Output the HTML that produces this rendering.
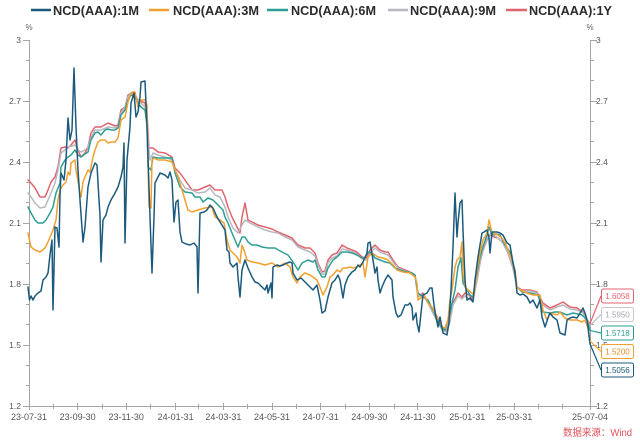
<!DOCTYPE html>
<html>
<head>
<meta charset="utf-8">
<style>
html,body{margin:0;padding:0;background:#fff;}
svg{display:block;}
text{font-family:"Liberation Sans","Noto Sans CJK SC",sans-serif;}
</style>
</head>
<body>
<svg width="640" height="440" viewBox="0 0 640 440" xmlns="http://www.w3.org/2000/svg">
<rect width="640" height="440" fill="#fff"/>

<!-- Legend -->
<g font-size="13" font-weight="bold" fill="#2b2b2b">
  <line x1="31" y1="10" x2="51" y2="10" stroke="#1c5a7d" stroke-width="2.5"/>
  <text x="53" y="15" textLength="86" lengthAdjust="spacingAndGlyphs">NCD(AAA):1M</text>
  <line x1="149" y1="10" x2="169" y2="10" stroke="#f0a030" stroke-width="2.5"/>
  <text x="173" y="15" textLength="86" lengthAdjust="spacingAndGlyphs">NCD(AAA):3M</text>
  <line x1="267" y1="10" x2="288" y2="10" stroke="#2e9e94" stroke-width="2.5"/>
  <text x="291" y="15" textLength="85" lengthAdjust="spacingAndGlyphs">NCD(AAA):6M</text>
  <line x1="388" y1="10" x2="408" y2="10" stroke="#b8b8c0" stroke-width="2.5"/>
  <text x="410" y="15" textLength="86" lengthAdjust="spacingAndGlyphs">NCD(AAA):9M</text>
  <line x1="506" y1="10" x2="527" y2="10" stroke="#e0646e" stroke-width="2.5"/>
  <text x="529" y="15" textLength="83" lengthAdjust="spacingAndGlyphs">NCD(AAA):1Y</text>
</g>

<!-- Units -->
<g font-size="8" fill="#666">
  <text x="29" y="30" text-anchor="middle">%</text>
  <text x="590" y="30" text-anchor="middle">%</text>
</g>

<!-- Axes -->
<g stroke="#a5a5a5" stroke-width="1" fill="none">
  <line x1="29.5" y1="40" x2="29.5" y2="406"/>
  <line x1="590.5" y1="40" x2="590.5" y2="406"/>
  <line x1="29" y1="406.5" x2="591" y2="406.5"/>
  <!-- left major ticks -->
  <path d="M23 40.5H29 M23 101.5H29 M23 162.5H29 M23 223.5H29 M23 284.5H29 M23 345.5H29 M23 406.5H29"/>
  <!-- left minor ticks -->
  <path d="M26 60.5H29 M26 80.5H29 M26 121.5H29 M26 141.5H29 M26 182.5H29 M26 202.5H29 M26 243.5H29 M26 263.5H29 M26 304.5H29 M26 324.5H29 M26 365.5H29 M26 385.5H29"/>
  <!-- right major ticks -->
  <path d="M591 40.5H597 M591 101.5H597 M591 162.5H597 M591 223.5H597 M591 284.5H597 M591 345.5H597 M591 406.5H597"/>
  <path d="M591 60.5H594 M591 80.5H594 M591 121.5H594 M591 141.5H594 M591 182.5H594 M591 202.5H594 M591 243.5H594 M591 263.5H594 M591 304.5H594 M591 324.5H594 M591 365.5H594 M591 385.5H594"/>
  <!-- x major ticks -->
  <path d="M29.5 403V410 M77.5 403V410 M126.5 403V410 M175.5 403V410 M223.5 403V410 M272.5 403V410 M320.5 403V410 M369.5 403V410 M417.5 403V410 M467.5 403V410 M514.5 403V410 M590.5 403V410"/>
  <!-- x minor ticks -->
  <path d="M53.5 404V409 M102.5 404V409 M150.5 404V409 M198.5 404V409 M247.5 404V409 M296.5 404V409 M345.5 404V409 M394.5 404V409 M442.5 404V409 M489.5 404V409 M538.5 404V409 M562.5 404V409"/>
</g>

<!-- Left y labels -->
<g font-size="8.5" fill="#555" text-anchor="end">
  <text x="21" y="43">3</text>
  <text x="21" y="104">2.7</text>
  <text x="21" y="165">2.4</text>
  <text x="21" y="226">2.1</text>
  <text x="21" y="287">1.8</text>
  <text x="21" y="348">1.5</text>
  <text x="21" y="409">1.2</text>
</g>
<!-- Right y labels -->
<g font-size="8.5" fill="#555">
  <text x="596" y="43">3</text>
  <text x="596" y="104">2.7</text>
  <text x="596" y="165">2.4</text>
  <text x="596" y="226">2.1</text>
  <text x="596" y="287">1.8</text>
  <text x="596" y="348">1.5</text>
  <text x="596" y="409">1.2</text>
</g>

<!-- X labels -->
<g font-size="9" fill="#555" text-anchor="middle">
  <text x="29" y="420">23-07-31</text>
  <text x="77.6" y="420">23-09-30</text>
  <text x="126.2" y="420">23-11-30</text>
  <text x="175.6" y="420">24-01-31</text>
  <text x="223.4" y="420">24-03-31</text>
  <text x="272" y="420">24-05-31</text>
  <text x="320.7" y="420">24-07-31</text>
  <text x="369.3" y="420">24-09-30</text>
  <text x="417.9" y="420">24-11-30</text>
  <text x="467.3" y="420">25-01-31</text>
  <text x="514.3" y="420">25-03-31</text>
  <text x="590" y="420">25-07-04</text>
</g>

<!-- Series -->
<g fill="none" stroke-width="1.5" stroke-linejoin="round" stroke-linecap="round">
  <!-- 1Y red -->
  <polyline stroke="#e0646e" points="28,180 31,183 35,188 40,197 45,197 48,190 51,182 55,177 58,167 61,148 65,147 68,148 71,145 75,140 78,150 81,157 85,153 88,147 91,133 95,127 101,127 108,123 115,126 118,125 121,110 125,107 128,95 133,92 138,100 145,103 147,115 149,148 153,148 158,152 165,153 172,157 175,168 180,173 185,180 192,190 198,190 205,187 210,185 215,190 222,190 225,197 228,207 232,217 237,227 240,233 242,217 245,203 248,220 252,222 258,225 265,227 272,229 278,232 285,235 292,238 298,245 305,248 310,248 315,253 318,263 322,272 325,271 328,260 332,255 337,253 342,245 347,248 352,250 357,252 362,257 367,258 370,250 375,245 380,250 385,252 388,252 393,260 398,267 405,270 410,272 415,275 418,297 423,293 428,303 433,313 438,322 443,330 447,330 450,320 453,303 458,293 462,297 465,293 469,295 473,300 477,280 480,263 483,250 487,240 490,235 494,237 498,238 503,243 508,253 513,268 517,287 522,290 530,290 537,292 543,303 550,308 557,305 563,302 570,307 577,308 583,312 587,320 590,323.5"/>
  <!-- 9M grey -->
  <polyline stroke="#b8b8c0" points="28,193 31,197 35,203 40,208 45,207 48,200 51,193 55,183 58,170 61,153 65,150 68,147 72,146 75,145 78,150 81,152 85,150 88,147 91,138 95,130 101,130 108,127 115,128 118,127 121,113 125,107 128,97 131,93 135,97 138,100 141,103 145,107 147,125 149,150 150,160 153,153 158,155 165,157 172,160 175,170 180,180 185,188 192,190 198,193 205,192 210,188 215,195 220,197 225,207 228,217 233,228 238,233 242,225 245,220 250,223 258,227 265,230 272,232 278,233 285,237 292,240 298,247 305,250 310,252 315,256 318,265 322,274 325,274 328,263 332,258 337,256 342,249 347,250 352,252 357,254 362,259 367,260 370,253 375,248 380,252 385,254 388,255 393,262 398,268 405,271 410,273 415,276 418,297 423,295 428,303 433,313 438,323 443,331 447,332 450,322 453,305 458,296 462,299 465,296 470,300 473,300 477,279 480,262 483,249 487,239 490,234 495,236 498,238 503,243 508,253 513,267 517,287 522,291 530,291 537,293 543,305 550,310 557,307 563,305 570,309 577,310 583,313 587,320 590,325.7"/>
  <!-- 6M teal -->
  <polyline stroke="#2e9e94" points="28,207 31,213 35,220 38,223 43,223 46,220 50,213 53,207 56,193 60,183 61,167 65,160 68,157 71,155 75,150 78,155 81,157 85,154 88,152 91,140 95,133 98,132 101,135 105,130 108,129 111,130 115,130 118,128 121,115 125,110 128,100 131,95 135,97 138,103 141,107 145,110 147,125 148,167 151,170 153,157 158,158 165,158 172,158 175,173 180,187 185,192 192,193 195,197 200,197 203,202 208,198 213,200 218,205 223,210 225,217 228,223 232,233 235,240 238,247 242,237 245,237 248,242 252,245 257,245 262,247 268,248 275,248 282,252 288,255 293,262 298,270 302,263 308,260 313,262 315,260 318,270 322,277 325,277 328,268 333,260 337,257 342,252 347,252 352,253 357,255 362,258 365,258 368,252 372,253 375,258 380,260 385,262 390,263 395,268 400,270 407,272 412,273 415,275 418,293 423,297 428,300 433,310 438,322 442,328 445,330 448,320 450,313 452,303 455,290 458,267 461,258 463,283 467,290 470,295 473,297 477,273 480,257 483,247 487,235 489,227 492,235 496,234 500,235 505,245 510,252 513,262 517,287 522,292 530,293 538,295 543,312 550,313 555,312 560,312 567,315 573,313 582,315 587,320 590,330.4"/>
  <!-- 3M orange -->
  <polyline stroke="#f0a030" points="28,233 31,247 35,250 40,252 45,248 48,242 53,230 56,220 58,200 60,190 63,185 66,182 68,172 70,175 71,163 75,160 76,170 80,193 81,197 83,182 85,177 88,170 90,172 93,157 95,150 98,142 101,140 105,140 108,143 111,142 115,142 118,138 121,120 125,117 128,102 131,93 135,92 138,107 141,100 145,100 147,105 148,160 149,207 151,208 152,160 154,158 158,160 165,160 172,162 175,170 178,177 182,190 185,200 188,210 192,212 198,210 205,208 212,207 215,217 220,220 224,223 227,240 230,250 233,253 237,257 240,263 242,245 244,250 247,260 252,262 258,263 265,265 272,263 278,267 285,263 290,267 293,277 297,283 300,277 305,273 310,275 313,277 317,280 320,287 323,295 327,287 330,277 333,275 337,270 340,272 343,268 347,268 350,267 353,268 357,267 360,265 363,263 365,277 368,257 372,253 375,255 378,257 383,258 388,260 393,265 397,270 403,272 410,273 415,277 417,283 418,300 422,297 425,297 428,303 432,307 435,313 438,318 442,327 445,328 448,320 450,300 452,290 455,267 457,260 460,257 462,242 463,273 465,287 468,290 472,293 474,295 477,270 480,253 483,240 487,233 489,220 492,233 495,234 498,235 502,238 505,243 508,250 512,260 515,270 517,287 520,290 527,293 533,295 540,295 543,310 547,320 550,313 557,315 560,312 565,318 570,320 577,320 582,322 585,320 588,328 590,341"/>
  <!-- 1M dark blue -->
  <polyline stroke="#1c5a7d" points="28,287 29.5,300 31,296 33,300 35,296 38,293 41,291 43,280 46,277 48,273 50,255 52,240 53,310 55,227 57,228 59,247 60,195 61,173 64,180 66,160 68,118 70,140 72,130 74,68 76,127 78,170 80,200 83,242 85,227 88,187 91,173 95,163 97,165 99,200 100,215 101,262 103,220 106,215 108,207 111,200 115,193 118,187 121,177 123,167 124,143 125,243 127,160 130,127 131,103 134,93 136,117 138,112 140,97 141,82 145,81 147,127 150,217 152,273 154,217 155,183 160,173 165,175 168,178 170,172 172,180 174,222 176,202 178,200 180,232 182,242 186,244 190,245 194,243 197,247 198,293 200,213 204,212 207,210 210,205 213,208 217,217 220,222 225,230 227,250 229,252 230,263 233,267 237,263 238,277 240,297 242,270 245,260 248,268 252,277 255,282 258,283 262,287 265,290 267,285 268,293 271,283 272,298 273,267 277,265 280,266 283,265 287,263 290,262 292,263 293,273 297,280 301,278 305,282 310,287 313,290 317,285 320,300 322,313 325,311 328,297 332,283 335,280 338,275 340,280 343,298 345,285 348,277 352,272 355,270 358,265 360,267 363,262 367,253 368,243 370,242 373,260 375,273 377,267 378,280 380,293 382,287 385,280 388,275 392,280 393,297 396,313 398,317 401,315 405,305 408,305 410,303 412,307 413,320 416,313 417,323 419,332 421,313 423,295 427,293 430,288 432,288 434,305 436,317 438,327 440,317 443,333 447,335 449,322 451,290 453,247 455,193 457,237 458,223 460,203 462,200 463,230 465,280 467,300 470,298 473,302 475,280 478,257 482,233 484,232 487,230 489,238 490,253 492,232 497,232 500,233 503,235 507,243 510,245 513,263 515,272 517,293 520,295 523,294 527,297 530,303 533,300 537,308 540,300 542,317 545,327 548,318 550,313 553,317 557,320 560,333 565,335 567,320 570,318 573,317 577,318 582,310 583,308 585,313 587,320 588,327 590,344"/>
</g>

<!-- Leader lines -->
<g fill="none" stroke-width="1.2">
  <line x1="590" y1="323.5" x2="601" y2="296" stroke="#e0646e"/>
  <line x1="590" y1="325.7" x2="601" y2="314.5" stroke="#b8b8c0"/>
  <line x1="590" y1="330.4" x2="601" y2="333" stroke="#2e9e94"/>
  <line x1="590" y1="341" x2="601" y2="351.5" stroke="#f0a030"/>
  <line x1="590" y1="344" x2="601" y2="370" stroke="#1c5a7d"/>
</g>

<!-- End value boxes -->
<g font-size="8" text-anchor="middle">
  <rect x="601.5" y="289" width="32" height="14" rx="2" fill="#fff" stroke="#e0646e"/>
  <text x="617.5" y="299" fill="#e0646e">1.6058</text>
  <rect x="601.5" y="307.5" width="32" height="14" rx="2" fill="#fff" stroke="#c8c8cf"/>
  <text x="617.5" y="317.5" fill="#a8a8b0">1.5950</text>
  <rect x="601.5" y="326" width="32" height="14" rx="2" fill="#fff" stroke="#2e9e94"/>
  <text x="617.5" y="336" fill="#2e9e94">1.5718</text>
  <rect x="601.5" y="344.5" width="32" height="14" rx="2" fill="#fff" stroke="#f0a030"/>
  <text x="617.5" y="354.5" fill="#e09020">1.5200</text>
  <rect x="601.5" y="363" width="32" height="14" rx="2" fill="#fff" stroke="#1c5a7d"/>
  <text x="617.5" y="373" fill="#1c5a7d">1.5056</text>
</g>

<!-- Source -->
<text x="563" y="436" font-size="10" fill="#e0505a" textLength="69" lengthAdjust="spacingAndGlyphs" style="font-family:'Liberation Sans','Noto Sans CJK SC',sans-serif;">数据来源：Wind</text>
</svg>
</body>
</html>
